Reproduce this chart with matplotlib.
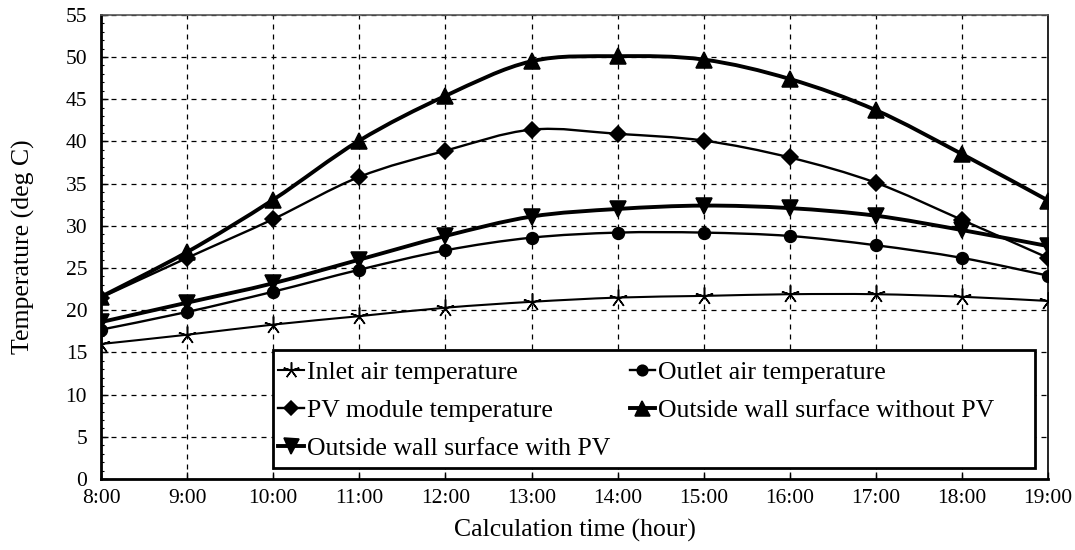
import matplotlib
matplotlib.use("Agg")
import matplotlib.pyplot as plt
from matplotlib.path import Path
from matplotlib.patches import PathPatch, Rectangle
from matplotlib.lines import Line2D
from matplotlib.ticker import MultipleLocator
import numpy as np

hours = [8, 9, 10, 11, 12, 13, 14, 15, 16, 17, 18, 19]
hour_labels = ["8:00", "9:00", "10:00", "11:00", "12:00", "13:00", "14:00",
               "15:00", "16:00", "17:00", "18:00", "19:00"]

inlet_air = [16.0, 17.1, 18.3, 19.3, 20.3, 21.0, 21.5, 21.7, 21.9, 21.9, 21.6, 21.1]
outlet_air = [17.7, 19.8, 22.2, 24.8, 27.1, 28.6, 29.2, 29.2, 28.8, 27.7, 26.2, 24.1]
pv_module = [21.5, 26.2, 30.8, 35.8, 38.9, 41.4, 40.9, 40.1, 38.1, 35.1, 30.7, 26.2]
wall_without_pv = [21.6, 26.9, 33.1, 40.1, 45.4, 49.5, 50.1, 49.7, 47.4, 43.7, 38.5, 33.0]
wall_with_pv = [18.6, 20.9, 23.2, 26.0, 28.8, 31.1, 32.0, 32.4, 32.1, 31.2, 29.5, 27.6]

labels = ["Inlet air temperature", "Outlet air temperature",
          "PV module temperature", "Outside wall surface without PV",
          "Outside wall surface with PV"]

plt.rcParams['font.family'] = ['Liberation Serif', 'DejaVu Serif']

fig = plt.figure(figsize=(10.75, 5.5), dpi=100)
ax = fig.add_axes([0.094, 0.129, 0.881, 0.844])


def smooth_path(x, y):
    pts = np.column_stack([x, y]).astype(float)
    n = len(pts)
    verts = [pts[0]]
    codes = [Path.MOVETO]
    for i in range(n - 1):
        p0 = pts[max(i - 1, 0)]
        p1 = pts[i]
        p2 = pts[i + 1]
        p3 = pts[min(i + 2, n - 1)]
        c1 = p1 + (p2 - p0) / 6.0
        c2 = p2 - (p3 - p1) / 6.0
        verts += [c1, c2, p2]
        codes += [Path.CURVE4] * 3
    return Path(verts, codes)


series = [
    (inlet_air, (5, 2, 0), 13, 1.5),
    (outlet_air, 'o', 8.5, 1.7),
    (pv_module, 'D', 8, 1.7),
    (wall_without_pv, '^', 12, 2.8),
    (wall_with_pv, 'v', 12, 2.8),
]

handles = []
for (vals, mk, ms, lw), lab in zip(series, labels):
    patch = PathPatch(smooth_path(hours, vals), facecolor='none',
                      edgecolor='black', linewidth=lw, zorder=3)
    ax.add_patch(patch)
    ax.plot(hours, vals, linestyle='none', marker=mk, markersize=ms,
            color='black', markeredgewidth=1.1, zorder=4)
    handles.append(Line2D([], [], color='black', linewidth=lw, marker=mk,
                          markersize=ms * 0.9, markeredgewidth=1.1))

ax.set_xlim(8, 19)
ax.set_ylim(0, 55)
ax.set_xticks(hours)
ax.set_xticklabels(hour_labels)
ax.yaxis.set_major_locator(MultipleLocator(5))
ax.yaxis.set_minor_locator(MultipleLocator(1))

ax.grid(True, which='major', linestyle=(0, (4, 4)), color='black', linewidth=0.9)
ax.set_axisbelow(True)

ax.tick_params(axis='both', which='major', labelsize=15.5, direction='in',
               length=5, width=1, colors='black')
ax.tick_params(axis='y', which='minor', direction='in', length=2, width=0.8)
ax.tick_params(axis='x', which='major', pad=7)
ax.tick_params(axis='y', which='major', pad=10)

ax.spines['left'].set_linewidth(2.0)
ax.spines['bottom'].set_linewidth(2.0)
ax.spines['top'].set_linewidth(1.2)
ax.spines['top'].set_color('#555555')
ax.spines['right'].set_linewidth(1.2)

ax.set_xlabel("Calculation time (hour)", fontsize=18.5, labelpad=8)
ax.set_ylabel("Temperature (deg C)", fontsize=18.5, labelpad=22)

# legend frame box
frame = Rectangle((0.1816, 0.0237), 0.8046, 0.2543, transform=ax.transAxes,
                  facecolor='white', edgecolor='black', linewidth=2.0,
                  zorder=4.5)
ax.add_patch(frame)

order = [0, 2, 4, 1, 3]
leg = ax.legend([handles[i] for i in order], [labels[i] for i in order],
                ncol=2, loc='upper left',
                bbox_to_anchor=(0.187, 0.255),
                fontsize=18.5, frameon=False,
                handlelength=1.0, handletextpad=0.12,
                labelspacing=0.6, borderpad=0.0, borderaxespad=0.0,
                columnspacing=0.75)
leg.set_zorder(5)

fig.savefig("out.png", dpi=100)
